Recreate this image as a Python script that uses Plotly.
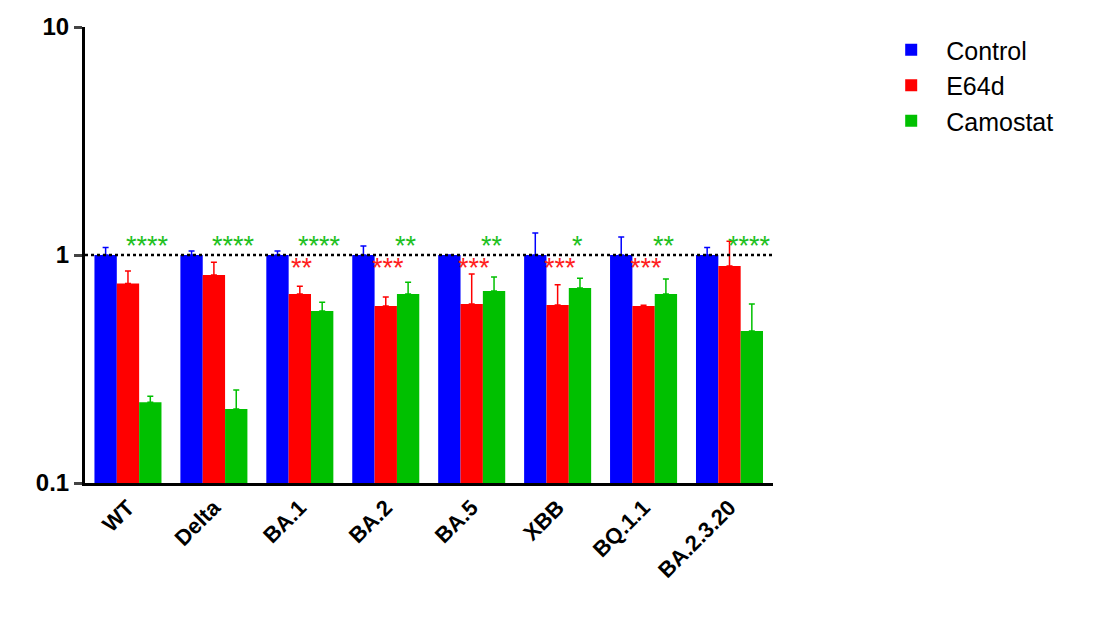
import plotly.graph_objects as go

categories = ["WT", "Delta", "BA.1", "BA.2", "BA.5", "XBB", "BQ.1.1", "BA.2.3.20"]
control = [1, 1, 1, 1, 1, 1, 1, 1]
control_err = [0.08, 0.04, 0.04, 0.095, 0.0, 0.25, 0.2, 0.08]
e64d = [0.75, 0.817, 0.674, 0.597, 0.61, 0.604, 0.597, 0.895]
e64d_err = [0.10, 0.113, 0.056, 0.057, 0.215, 0.136, 0.005, 0.255]
camostat = [0.226, 0.211, 0.568, 0.674, 0.695, 0.716, 0.674, 0.464]
camostat_err = [0.014, 0.045, 0.052, 0.086, 0.105, 0.074, 0.111, 0.146]
e64d_sig = ["", "", "**", "***", "***", "***", "***", ""]
camo_sig = ["****", "****", "****", "**", "**", "*", "**", "****"]

fig = go.Figure()
for name, vals, err, col in [("Control", control, control_err, "#0000FF"),
                             ("E64d", e64d, e64d_err, "#FF0000"),
                             ("Camostat", camostat, camostat_err, "#00C000")]:
    fig.add_trace(go.Bar(x=categories, y=vals, name=name, marker_color=col, marker_line_width=0,
                         error_y=dict(type="data", array=err, arrayminus=[0]*len(err),
                                      symmetric=False, color=col, thickness=1.5, width=3)))

fig.add_shape(type="line", xref="paper", x0=0, x1=1, yref="y", y0=1, y1=1,
              line=dict(color="black", width=2.5, dash="dot"))

for i, c in enumerate(categories):
    if e64d_sig[i]:
        fig.add_annotation(x=c, y=0, yref="y", text=e64d_sig[i], showarrow=False, xshift=2,
                           yshift=-30, font=dict(color="#FF2020", size=27), yanchor="bottom")
    if camo_sig[i]:
        fig.add_annotation(x=c, y=0, yref="y", text=camo_sig[i], showarrow=False, xshift=20,
                           yshift=-8, font=dict(color="#20C020", size=27), yanchor="bottom")

fig.update_layout(
    width=1108, height=640, barmode="group", bargap=0.22, bargroupgap=0,
    plot_bgcolor="white", paper_bgcolor="white",
    margin=dict(l=77, r=343, t=19, b=165, autoexpand=False),
    font=dict(family="Arial, Liberation Sans", color="black"),
    legend=dict(x=1.15, y=1.0, yanchor="top", font=dict(size=25), itemwidth=60,
                tracegroupgap=14),
    xaxis=dict(showline=True, linecolor="black", linewidth=3, tickangle=-45, automargin=False,
               tickvals=categories, ticktext=[f"<b>{c}</b>" for c in categories],
               tickfont=dict(size=22), ticks="outside", ticklen=0),
    yaxis=dict(type="log", range=[-1, 1], showline=True, linecolor="black", linewidth=3,
               automargin=False,
               tickvals=[0.1, 1, 10], ticktext=["<b>0.1</b>", "<b>1</b>", "<b>10</b>"],
               ticks="outside", ticklen=8, tickwidth=3, showgrid=False,
               tickfont=dict(size=24), minor=dict(ticks="", showgrid=False)),
)
fig.write_html("out.html")
